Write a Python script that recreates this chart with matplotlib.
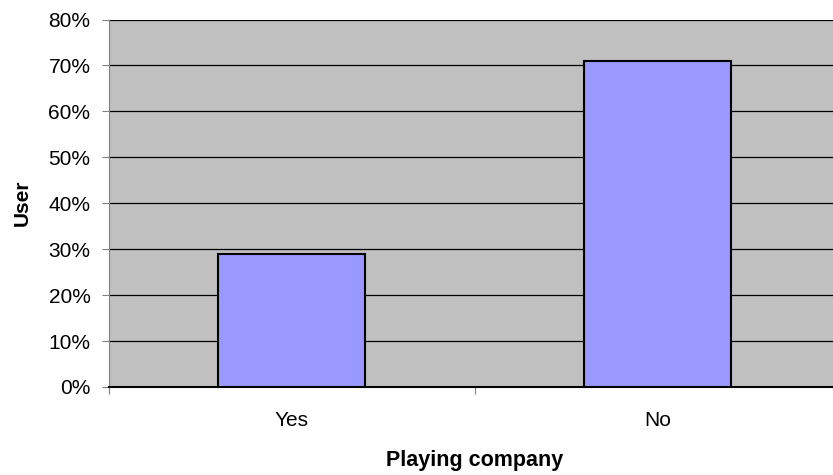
import matplotlib
matplotlib.use("Agg")
import matplotlib.pyplot as plt
from matplotlib.ticker import FixedLocator, PercentFormatter

plt.rcParams['font.family'] = ['Liberation Sans', 'DejaVu Sans']

# survey answers: share of users who play with company
categories = ['Yes', 'No']
share = [29, 71]
y_ticks = [0, 10, 20, 30, 40, 50, 60, 70, 80]

fig = plt.figure(figsize=(8.33, 4.75), dpi=100)
ax = fig.add_axes([108.5 / 833, 88 / 475, 732 / 833, 367.5 / 475])
ax.set_facecolor('#C0C0C0')

pos = list(range(len(categories)))
ax.bar(pos, share, width=0.40, color='#9999FF', edgecolor='black', linewidth=1.5, zorder=3)

ax.set_xlim(-0.5, len(categories) - 0.5)
ax.set_ylim(0, 80)
ax.set_yticks(y_ticks)
ax.yaxis.set_major_formatter(PercentFormatter(decimals=0))
ax.yaxis.grid(True, color='black', linewidth=0.9, zorder=1)

# ticks at the category boundaries, labels at the centres
ax.xaxis.set_major_locator(FixedLocator([p - 0.5 for p in pos] + [pos[-1] + 0.5]))
ax.xaxis.set_major_formatter(plt.NullFormatter())
ax.xaxis.set_minor_locator(FixedLocator(pos))
ax.set_xticklabels(categories, minor=True)
ax.tick_params(axis='x', which='minor', length=0, pad=17, labelsize=15)
ax.tick_params(axis='x', which='major', length=5, direction='out', color='#808080')
ax.tick_params(axis='y', length=5, direction='out', color='#808080', labelsize=15, pad=8)

for side in ['top', 'right']:
    ax.spines[side].set_visible(False)
ax.spines['left'].set_color('#808080')
ax.spines['bottom'].set_color('black')
ax.spines['bottom'].set_linewidth(1.5)

ax.set_xlabel('Playing company', fontsize=15.5, fontweight='bold', labelpad=15)
ax.set_ylabel('User', fontsize=15, fontweight='bold', labelpad=12)

fig.savefig('out.png', dpi=100)
